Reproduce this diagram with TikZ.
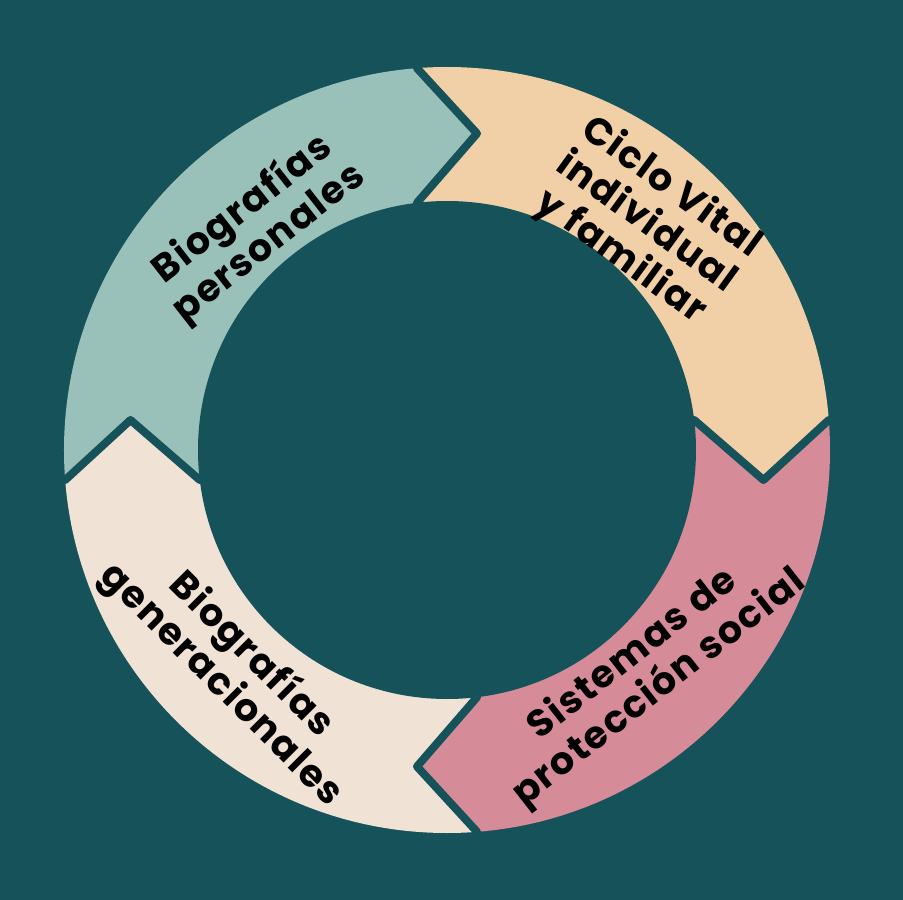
\documentclass[tikz,border=0pt]{standalone}
\usepackage{fontspec}
\setmainfont{Poppins}[LetterSpace=4]
\definecolor{bg}{HTML}{16525A}
\definecolor{cteal}{HTML}{99C1B9}
\definecolor{cpeach}{HTML}{F2D0A7}
\definecolor{cpink}{HTML}{D68B98}
\definecolor{ccream}{HTML}{F0E3D6}
\tikzset{
  lbl/.style={align=center, text=black, font=\bfseries\fontsize{38}{43}\selectfont, inner sep=0pt},
  sep/.style={draw=bg, line width=8pt, line join=round}
}
\newcommand{\segfill}[2]{% #1 start angle, #2 colour
  \begin{scope}
    \clip (0,0) circle (383);
    \fill[#2] (0,0)
      -- ([rotate=#1-90]-30,230) -- ([rotate=#1-90]-30,247.2) -- ([rotate=#1-90]30,316.5)
      -- ([rotate=#1-90]-30,381.8) -- ([rotate=#1-90]-30,450)
      -- (#1-45:700)
      -- ([rotate=#1-180]-30,450) -- ([rotate=#1-180]-30,381.8) -- ([rotate=#1-180]30,316.5)
      -- ([rotate=#1-180]-30,247.2) -- ([rotate=#1-180]-30,230)
      -- cycle;
  \end{scope}}
\begin{document}
\begin{tikzpicture}[x=1pt,y=1pt]
\fill[bg] (-447,-450) rectangle (456,450);
\useasboundingbox (-447,-450) rectangle (456,450);
\segfill{180}{cteal}
\segfill{90}{cpeach}
\segfill{0}{cpink}
\segfill{-90}{ccream}
\fill[bg] (0,0) circle (249);
\foreach \a in {90,0,-90,180}{
  \draw[sep] ([rotate=\a-90]-30,450) -- ([rotate=\a-90]-30,381.8) -- ([rotate=\a-90]30,316.5) -- ([rotate=\a-90]-30,247.2) -- ([rotate=\a-90]-30,230);
}
\node[lbl, rotate=38] (t1) at (130.5:294) {Biografías\\personales};
\node[lbl, rotate=-36] (t2) at (48.8:302) {Ciclo Vital\\individual\\y familiar};
\node[lbl, rotate=38] (t3) at (-48:298) {Sistemas de\\protección social};
\node[lbl, rotate=-45] (t4) at (-133.8:305) {Biografías\\generacionales};
\end{tikzpicture}
\end{document}
